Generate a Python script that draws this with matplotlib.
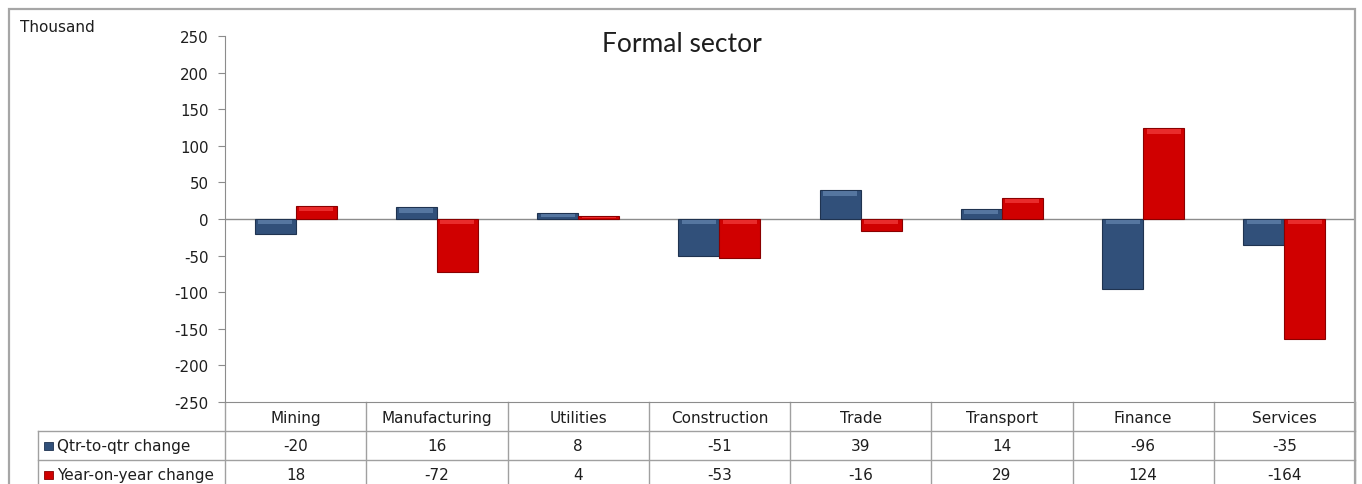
import numpy as np
import matplotlib.pyplot as plt
from matplotlib.lines import Line2D
from matplotlib.patches import Rectangle

# data (thousand)
sectors = ['Mining', 'Manufacturing', 'Utilities', 'Construction',
           'Trade', 'Transport', 'Finance', 'Services']
qtr_change = [-20, 16, 8, -51, 39, 14, -96, -35]
year_change = [18, -72, 4, -53, -16, 29, 124, -164]
series_names = ['Qtr-to-qtr change', 'Year-on-year change']
yticks = list(range(-250, 251, 50))

blue = '#31507A'
blue_edge = '#1F3350'
blue_hi = '#6283AD'
red = '#D00000'
red_edge = '#8A0000'
red_hi = '#F23A3A'
grey = '#8C8C8C'
txt = '#1E1E1E'

W, H = 1362, 485
fig = plt.figure(figsize=(W / 100, H / 100), dpi=100)


def fx(px):
    return px / W


def fy(py):
    return 1 - py / H


# outer chart border
fig.patches.append(Rectangle((fx(9), fy(500)), fx(1355) - fx(9), fy(10) - fy(500),
                             transform=fig.transFigure, fill=False,
                             edgecolor='#A6A6A6', linewidth=1.6))

ax = fig.add_axes([fx(225), fy(403), fx(1355) - fx(225), fy(37) - fy(403)])

x = np.arange(len(sectors))
bw = 0.29
ax.bar(x - bw / 2, qtr_change, bw, color=blue, edgecolor=blue_edge, linewidth=0.8, zorder=3)
ax.bar(x + bw / 2, year_change, bw, color=red, edgecolor=red_edge, linewidth=0.8, zorder=3)

# bevel highlight along the upper edge of each bar
for xs, vals, hi in [(x - bw / 2, qtr_change, blue_hi), (x + bw / 2, year_change, red_hi)]:
    for xi, v in zip(xs, vals):
        top = max(v, 0)
        band = min(abs(v) * 0.45, 6)
        ax.add_patch(Rectangle((xi - bw / 2 + 0.025, top - band - 1.2), bw - 0.05, band,
                               facecolor=hi, edgecolor='none', alpha=0.75, zorder=4))

ax.axhline(0, color=grey, linewidth=1, zorder=2)

ax.set_xlim(-0.5, len(sectors) - 0.5)
ax.set_ylim(-250, 250)
ax.set_yticks(yticks)
ax.set_yticklabels([str(t) for t in yticks], fontsize=10.8, color=txt)
ax.tick_params(axis='y', direction='out', length=5, color=grey, pad=7)
ax.set_xticks([])
for s in ['top', 'right']:
    ax.spines[s].set_visible(False)
for s in ['left', 'bottom']:
    ax.spines[s].set_color(grey)

fig.text(fx(20), fy(27), 'Thousand', fontsize=11, color=txt, va='center', ha='left')
fig.text(fx(682), fy(45), 'Formal sector', fontsize=19, color=txt,
         family='Lato', ha='center', va='center')

# data table under the plot
tr = ax.get_xaxis_transform()
row_y = [-0.041, -0.120, -0.199]
for i, name in enumerate(sectors):
    ax.text(i, row_y[0], name, transform=tr, ha='center', va='center',
            fontsize=11, color=txt, clip_on=False)
    ax.text(i, row_y[1], str(qtr_change[i]), transform=tr, ha='center', va='center',
            fontsize=11, color=txt, clip_on=False)
    ax.text(i, row_y[2], str(year_change[i]), transform=tr, ha='center', va='center',
            fontsize=11, color=txt, clip_on=False)

tc = '#A0A0A0'
for b in np.arange(-0.5, len(sectors), 1.0):
    ax.add_line(Line2D([b, b], [0, -0.3], transform=tr, color=tc, linewidth=1, clip_on=False))
for yl in [432, 461]:
    fig.add_artist(Line2D([fx(38), fx(1355)], [fy(yl), fy(yl)],
                          transform=fig.transFigure, color=tc, linewidth=1))
fig.add_artist(Line2D([fx(38), fx(38)], [fy(432), fy(500)],
                      transform=fig.transFigure, color=tc, linewidth=1))

for name, col, edge, yl in [(series_names[0], blue, blue_edge, 447),
                            (series_names[1], red, red_edge, 476)]:
    fig.patches.append(Rectangle((fx(44), fy(yl + 4)), fx(9), 8 / H,
                                 transform=fig.transFigure, facecolor=col,
                                 edgecolor=edge, linewidth=0.6))
    fig.text(fx(57), fy(yl), name, fontsize=11, color=txt, va='center', ha='left')

fig.savefig('out.png', dpi=100, facecolor='white')
